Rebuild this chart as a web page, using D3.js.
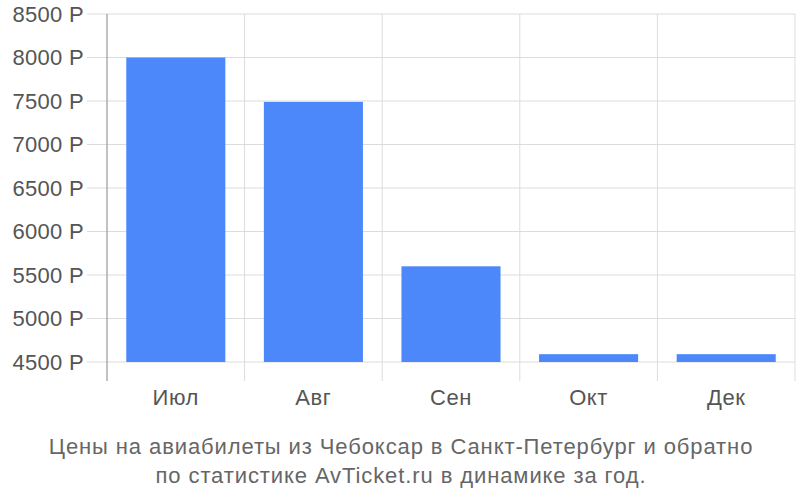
<!DOCTYPE html>
<html><head><meta charset="utf-8">
<script src="https://cdn.jsdelivr.net/npm/d3@7"></script>
<style>body{margin:0;background:#fff}svg{display:block;font-family:"Liberation Sans",Arial,sans-serif}</style>
</head><body>
<svg id="c" width="800" height="500"></svg>
<script>
const categories = ["Июл","Авг","Сен","Окт","Дек"];
const values = [8000, 7490, 5600, 4590, 4590];
const yTicks = [4500,5000,5500,6000,6500,7000,7500,8000,8500];
const titleLines = ["Цены на авиабилеты из Чебоксар в Санкт-Петербург и обратно","по статистике AvTicket.ru в динамике за год."];

(function(){
const svg = d3.select("#c");
const pLeft = 107, pRight = 795, pTop = 14, pBottom = 362, axisBottom = 381;
const x = d3.scaleBand().domain(categories).range([pLeft, pRight]).paddingInner(0.28).paddingOuter(0.14);
const xb = d3.scaleBand().domain(categories).range([pLeft, pRight]);
const y = d3.scaleLinear().domain([4500, 8500]).range([pBottom, pTop]);

svg.append("g").selectAll("line").data(yTicks).join("line")
  .attr("x1", 87).attr("x2", pRight).attr("y1", d=>y(d)).attr("y2", d=>y(d))
  .attr("stroke", "#dcdcdc").attr("stroke-width", 1);
const bounds = categories.map(c=>xb(c)).concat([pRight]);
svg.append("g").selectAll("line").data(bounds.slice(1)).join("line")
  .attr("x1", d=>d).attr("x2", d=>d).attr("y1", pTop).attr("y2", axisBottom)
  .attr("stroke", "#dcdcdc").attr("stroke-width", 1);
svg.append("line").attr("x1", pLeft).attr("x2", pLeft).attr("y1", pTop).attr("y2", axisBottom)
  .attr("stroke", "#999").attr("stroke-width", 1.2);

svg.append("g").selectAll("rect").data(values).join("rect")
  .attr("x", (d,i)=>x(categories[i])).attr("width", x.bandwidth())
  .attr("y", d=>y(d)).attr("height", d=>y(4500)-y(d))
  .attr("fill", "#4d88fb");

svg.append("g").selectAll("text").data(yTicks).join("text")
  .attr("x", 84).attr("y", d=>y(d)).attr("dy", "0.36em").attr("text-anchor", "end")
  .attr("font-size", 22).attr("letter-spacing", 0.3).attr("fill", "#555").text(d=>d + " Р");
svg.append("g").selectAll("text").data(categories).join("text")
  .attr("x", d=>xb(d)+xb.bandwidth()/2).attr("y", 405).attr("text-anchor", "middle")
  .attr("font-size", 22).attr("letter-spacing", 0.6).attr("fill", "#555").text(d=>d);
svg.append("g").selectAll("text").data(titleLines).join("text")
  .attr("x", 401).attr("y", (d,i)=>454 + i*29).attr("text-anchor", "middle")
  .attr("font-size", 22).attr("letter-spacing", 0.9).attr("fill", "#666").text(d=>d);
})();
</script>
</body></html>
